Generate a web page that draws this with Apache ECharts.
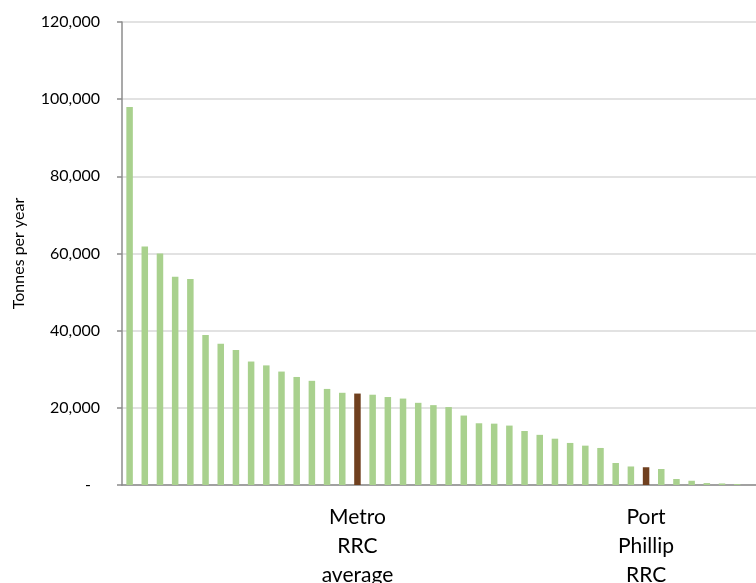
<!DOCTYPE html>
<html>
<head>
<meta charset="utf-8">
<script src="https://cdn.jsdelivr.net/npm/echarts@6/dist/echarts.min.js"></script>
<style>
html,body{margin:0;padding:0;background:#fff;}
#chart{width:756px;height:583px;}
</style>
</head>
<body>
<div id="chart"></div>
<script>
// Categories (only two are labelled in the source chart)
const categories = [
  '', '', '', '', '', '', '', '', '', '', '', '', '', '', '',
  'Metro\nRRC\naverage',
  '', '', '', '', '', '', '', '', '', '', '', '', '', '', '', '', '', '',
  'Port\nPhillip\nRRC',
  '', '', '', '', '', '',
  ''
];
// Tonnes per year
const values = [
  98000, 61800, 60000, 54000, 53400, 38900, 36600, 35000, 32000, 31000,
  29400, 28000, 27000, 24900, 23900, 23700, 23400, 22800, 22400, 21300,
  20700, 20200, 18000, 16000, 15900, 15400, 14000, 13000, 12000, 10900,
  10200, 9600, 5700, 4800, 4600, 4150, 1550, 1100, 500, 400, 250,
  null
];
const highlighted = ['Metro\nRRC\naverage', 'Port\nPhillip\nRRC'];
const yTicks = [0, 20000, 40000, 60000, 80000, 100000, 120000];
const yName = 'Tonnes per year';

const GREEN = '#A9D18E';
const BROWN = '#70401F';

const chart = echarts.init(document.getElementById('chart'), null, {renderer: 'canvas'});
chart.setOption({
  animation: false,
  grid: {left: 122, top: 22, width: 638, bottom: 98, containLabel: false, outerBoundsMode: 'none'},
  xAxis: {
    type: 'category',
    data: categories,
    boundaryGap: true,
    axisLine: {show: true, lineStyle: {color: '#8C8C8C', width: 1.5}},
    axisTick: {show: false},
    axisLabel: {
      interval: 0,
      margin: 18,
      fontFamily: 'Lato',
      fontSize: 21,
      lineHeight: 29,
      color: '#000',
      align: 'center'
    },
    splitLine: {show: false}
  },
  yAxis: {
    type: 'value',
    min: yTicks[0],
    max: yTicks[yTicks.length - 1],
    interval: yTicks[1] - yTicks[0],
    name: yName,
    nameLocation: 'middle',
    nameGap: 95,
    nameRotate: 90,
    nameTextStyle: {fontFamily: 'Lato', fontSize: 16, color: '#000'},
    axisLine: {show: true, lineStyle: {color: '#8C8C8C', width: 1.5}},
    axisTick: {show: true, length: 5, inside: false, lineStyle: {color: '#8C8C8C', width: 1.5}},
    axisLabel: {
      margin: 22,
      fontFamily: 'Lato',
      fontSize: 16,
      color: '#000',
      formatter: function (v) {
        if (v === 0) return '{z|-}';
        return v.toLocaleString('en-US');
      },
      rich: {z: {fontFamily: 'Lato', fontSize: 16, color: '#000', padding: [0, 9, 0, 0]}}
    },
    splitLine: {show: true, lineStyle: {color: '#D9D9D9', width: 1.5}}
  },
  series: [{
    type: 'bar',
    barWidth: 6.5,
    data: values.map((v, i) => ({
      value: v,
      itemStyle: {color: highlighted.indexOf(categories[i]) >= 0 ? BROWN : GREEN}
    }))
  }]
});
</script>
</body>
</html>
